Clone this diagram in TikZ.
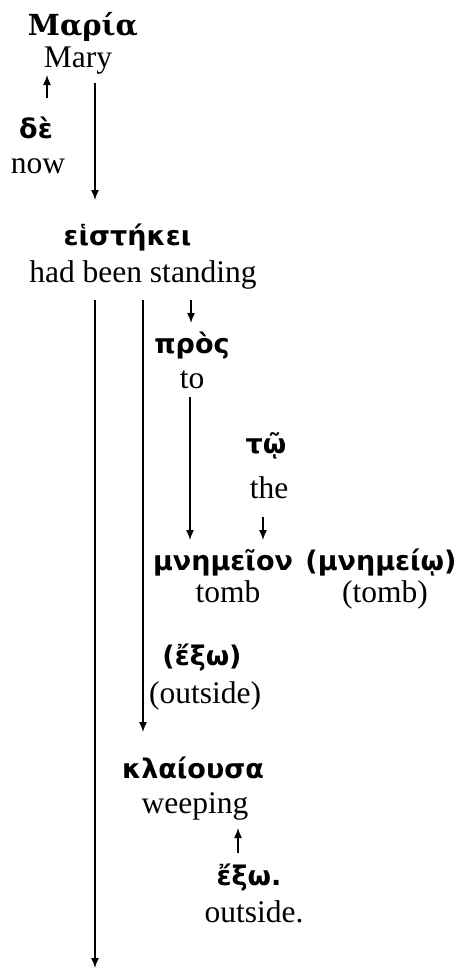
\documentclass[tikz,border=0pt]{standalone}
\usepackage{fontspec}
\setmainfont{Liberation Serif}
\newfontfamily\grk{DejaVu Sans}
\newfontfamily\grkserif{DejaVu Serif}
\usetikzlibrary{arrows.meta,calc}
\begin{document}
\begin{tikzpicture}[x=1pt,y=-1pt,
  en/.style={font=\fontsize{31.5}{36}\selectfont, inner sep=0pt, anchor=base},
  gk/.style={font=\fontsize{27}{34}\selectfont\grk\bfseries, inner sep=0pt, anchor=base},
  gks/.style={font=\fontsize{29}{34}\selectfont\grkserif\bfseries, inner sep=0pt, anchor=base},
  arr/.style={line width=1.4pt, -{Latex[length=10pt,width=8pt]}}]
\useasboundingbox (0,0) rectangle (457,969);
% nodes
\node[gks] (mar)   at (83,35)  {Μαρία};
\node[en]  (mary)  at (78,67)  {Mary};
\node[gk]  (de)    at (36,138) {δὲ};
\node[en]  (now)   at (38,173) {now};
\node[gk]  (eis)   at (127.5,245) {εἱστήκει};
\node[en]  (had)   at (143,282) {had been standing};
\node[gk]  (pros)  at (192,353) {πρὸς};
\node[en]  (to)    at (192,388) {to};
\node[gk]  (tw)    at (266,453) {τῷ};
\node[en]  (the)   at (269,498) {the};
\node[gk]  (mnem)  at (223,570) {μνημεῖον};
\node[gk]  (mnem2) at (381,570) {(μνημείῳ)};
\node[en]  (tomb)  at (228,602) {tomb};
\node[en]  (tomb2) at (385,602) {(tomb)};
\node[gk]  (exo1)  at (202,665) {(ἔξω)};
\node[en]  (outs1) at (205,703) {(outside)};
\node[gk]  (kla)   at (193,778) {κλαίουσα};
\node[en]  (weep)  at (195,813) {weeping};
\node[gk]  (exo)   at (249,885) {ἔξω.};
\node[en]  (outs)  at (254,922) {outside.};
\coordinate (end) at (95,968);
% connectors
\draw[arr] ($(de.base)+(11,-40)$) -- ($(mary.base)+(-31,8)$);
\draw[arr] ($(mary.base)+(17,16)$) -- ($(eis.base)+(-32.5,-45)$);
\draw[arr] ($(had.base)+(-48,18)$) -- (end);
\draw[arr] ($(had.base)+(0,18)$) -- ($(kla.base)+(-50,-46)$);
\draw[arr] ($(had.base)+(48,18)$) -- ($(pros.base)+(-1,-30)$);
\draw[arr] ($(to.base)+(-2,9)$) -- ($(mnem.base)+(-33,-30)$);
\draw[arr] ($(the.base)+(-6,19)$) -- ($(mnem.base)+(40,-30)$);
\draw[arr] ($(exo.base)+(-11,-32)$) -- ($(weep.base)+(43,15)$);
\end{tikzpicture}
\end{document}
